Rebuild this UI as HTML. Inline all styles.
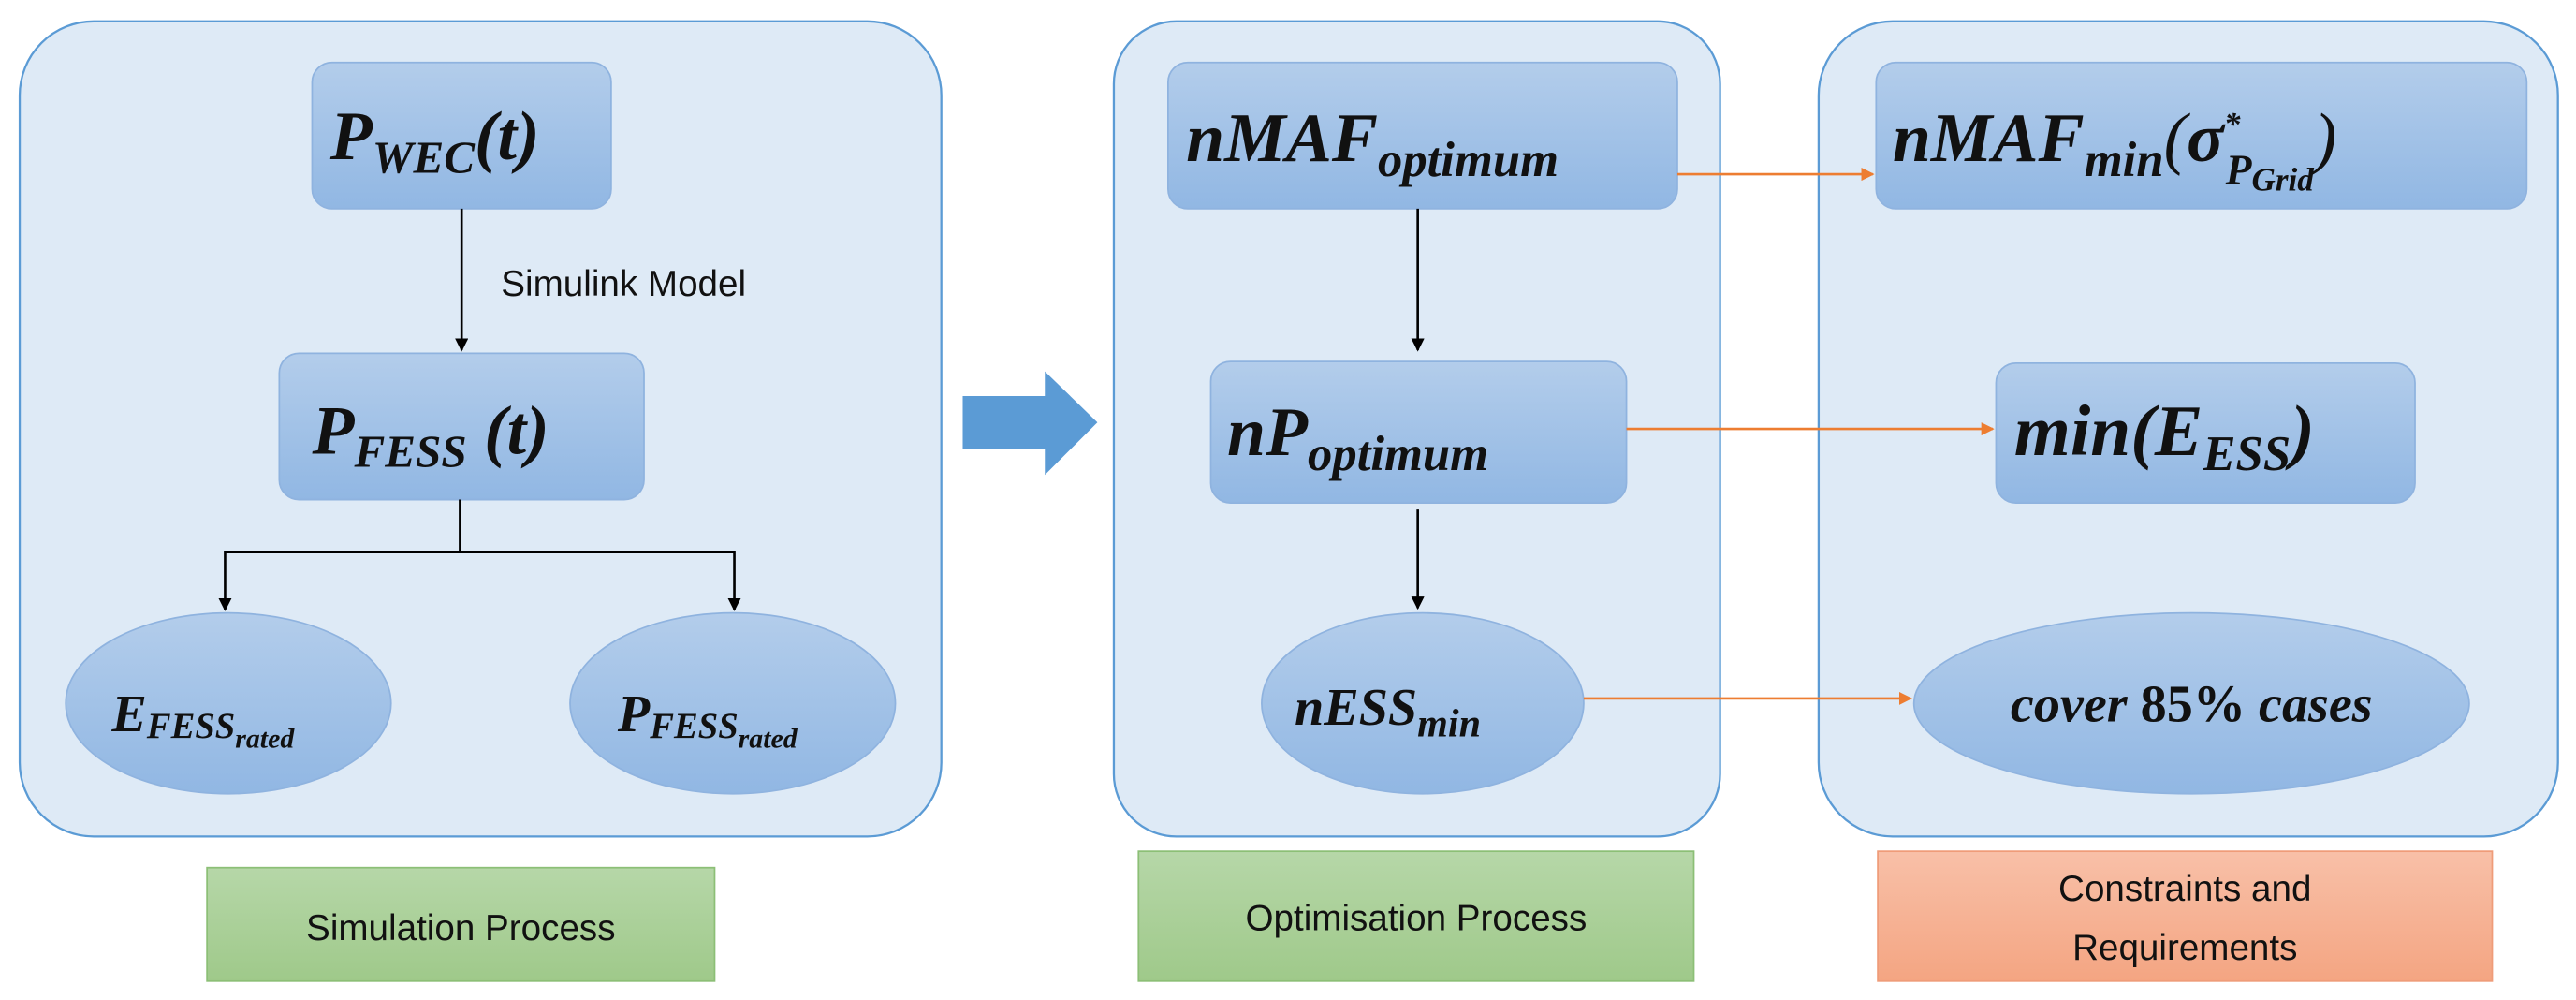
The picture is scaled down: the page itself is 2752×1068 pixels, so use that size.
<!DOCTYPE html>
<html><head><meta charset="utf-8"><style>
html,body{margin:0;padding:0;background:#fff;}
svg{display:block;}
.m{font-family:"Liberation Serif",serif;font-style:italic;font-weight:bold;fill:#111;}
.s{font-family:"Liberation Sans",sans-serif;fill:#111;}
</style></head><body>
<svg width="2752" height="1068" viewBox="0 0 1568 608.5" xmlns="http://www.w3.org/2000/svg">
<defs>
<linearGradient id="bx" x1="0" y1="0" x2="0" y2="1"><stop offset="0" stop-color="#b3cdeb"/><stop offset="1" stop-color="#91b7e3"/></linearGradient>
<linearGradient id="gr" x1="0" y1="0" x2="0" y2="1"><stop offset="0" stop-color="#b6d7a8"/><stop offset="1" stop-color="#9fc98a"/></linearGradient>
<linearGradient id="or" x1="0" y1="0" x2="0" y2="1"><stop offset="0" stop-color="#f8c0a8"/><stop offset="1" stop-color="#f4a582"/></linearGradient>
<marker id="ab" markerWidth="8" markerHeight="8" refX="7" refY="4" orient="auto" markerUnits="userSpaceOnUse"><path d="M0,0 L8,4 L0,8 z" fill="#000"/></marker>
<marker id="ao" markerWidth="8" markerHeight="8" refX="7" refY="4" orient="auto" markerUnits="userSpaceOnUse"><path d="M0,0 L8,4 L0,8 z" fill="#ed7d31"/></marker>
</defs>
<!-- panels -->
<rect x="12" y="13" width="561" height="496" rx="45" fill="#deeaf6" stroke="#5b9bd5" stroke-width="1.3"/>
<rect x="678" y="13" width="369" height="496" rx="38" fill="#deeaf6" stroke="#5b9bd5" stroke-width="1.3"/>
<rect x="1107" y="13" width="450" height="496" rx="45" fill="#deeaf6" stroke="#5b9bd5" stroke-width="1.3"/>
<!-- left -->
<rect x="190" y="38" width="182" height="89" rx="12" fill="url(#bx)" stroke="#8fb3df"/>
<text class="m" x="201" y="97" font-size="42">P<tspan font-size="28" dy="8">WEC</tspan><tspan dy="-8" font-size="42">(t)</tspan></text>
<line x1="281" y1="127" x2="281" y2="213" stroke="#000" stroke-width="1.5" marker-end="url(#ab)"/>
<text class="s" x="305" y="180" font-size="22">Simulink Model</text>
<rect x="170" y="215" width="222" height="89" rx="12" fill="url(#bx)" stroke="#8fb3df"/>
<text class="m" x="190" y="276" font-size="42">P<tspan font-size="28" dy="8">FESS</tspan><tspan dy="-8" font-size="42"> (t)</tspan></text>
<polyline points="280,304 280,336 137,336 137,371" fill="none" stroke="#000" stroke-width="1.5" marker-end="url(#ab)"/>
<polyline points="280,336 447,336 447,371" fill="none" stroke="#000" stroke-width="1.5" marker-end="url(#ab)"/>
<ellipse cx="139" cy="428" rx="99" ry="55" fill="url(#bx)" stroke="#8fb3df"/>
<text class="m" x="68" y="445" font-size="32">E<tspan font-size="22" dy="4">FESS</tspan><tspan font-size="17" dy="6">rated</tspan></text>
<ellipse cx="446" cy="428" rx="99" ry="55" fill="url(#bx)" stroke="#8fb3df"/>
<text class="m" x="376" y="445" font-size="32">P<tspan font-size="22" dy="4">FESS</tspan><tspan font-size="17" dy="6">rated</tspan></text>
<rect x="126" y="528" width="309" height="69" fill="url(#gr)" stroke="#8cbf76"/>
<text class="s" x="280.5" y="572" font-size="22" text-anchor="middle">Simulation Process</text>
<!-- big arrow -->
<polygon points="586,241 636,241 636,226 668,257 636,289 636,273 586,273" fill="#5b9bd5"/>
<!-- middle -->
<rect x="711" y="38" width="310" height="89" rx="12" fill="url(#bx)" stroke="#8fb3df"/>
<text class="m" x="722" y="98" font-size="42">nMAF<tspan font-size="30" dy="9">optimum</tspan></text>
<line x1="863" y1="127" x2="863" y2="213" stroke="#000" stroke-width="1.5" marker-end="url(#ab)"/>
<rect x="737" y="220" width="253" height="86" rx="12" fill="url(#bx)" stroke="#8fb3df"/>
<text class="m" x="747" y="277" font-size="42">nP<tspan font-size="30" dy="9">optimum</tspan></text>
<line x1="863" y1="310" x2="863" y2="370" stroke="#000" stroke-width="1.5" marker-end="url(#ab)"/>
<ellipse cx="866" cy="428" rx="98" ry="55" fill="url(#bx)" stroke="#8fb3df"/>
<text class="m" x="788" y="441" font-size="32">nESS<tspan font-size="24" dy="7">min</tspan></text>
<rect x="693" y="518" width="338" height="79" fill="url(#gr)" stroke="#8cbf76"/>
<text class="s" x="862" y="566" font-size="22" text-anchor="middle">Optimisation Process</text>
<!-- right -->
<rect x="1142" y="38" width="396" height="89" rx="12" fill="url(#bx)" stroke="#8fb3df"/>
<text class="m" x="1152" y="98" font-size="42">nMAF<tspan font-size="30" dy="9">min</tspan><tspan font-size="42" dy="-9" font-weight="normal">(</tspan>σ<tspan font-size="20" dy="-16">*</tspan><tspan font-size="26" dx="-9" dy="30">P</tspan><tspan font-size="20" dy="4">Grid</tspan><tspan font-size="42" dy="-18" font-weight="normal">)</tspan></text>
<rect x="1215" y="221" width="255" height="85" rx="12" fill="url(#bx)" stroke="#8fb3df"/>
<text class="m" x="1226" y="277" font-size="44">min(E<tspan font-size="30" dy="9">ESS</tspan><tspan dy="-9" font-size="44">)</tspan></text>
<ellipse cx="1334" cy="428" rx="169" ry="55" fill="url(#bx)" stroke="#8fb3df"/>
<text class="m" x="1334" y="439" font-size="32" text-anchor="middle">cover <tspan font-style="normal">85%</tspan> cases</text>
<rect x="1143" y="518" width="374" height="79" fill="url(#or)" stroke="#ef9c79"/>
<text class="s" x="1330" y="548" font-size="22" text-anchor="middle">Constraints and</text>
<text class="s" x="1330" y="584" font-size="22" text-anchor="middle">Requirements</text>
<!-- orange arrows -->
<line x1="1021" y1="106" x2="1140" y2="106" stroke="#ed7d31" stroke-width="1.5" marker-end="url(#ao)"/>
<line x1="990" y1="261" x2="1213" y2="261" stroke="#ed7d31" stroke-width="1.5" marker-end="url(#ao)"/>
<line x1="964" y1="425" x2="1163" y2="425" stroke="#ed7d31" stroke-width="1.5" marker-end="url(#ao)"/>
</svg>
</body></html>
